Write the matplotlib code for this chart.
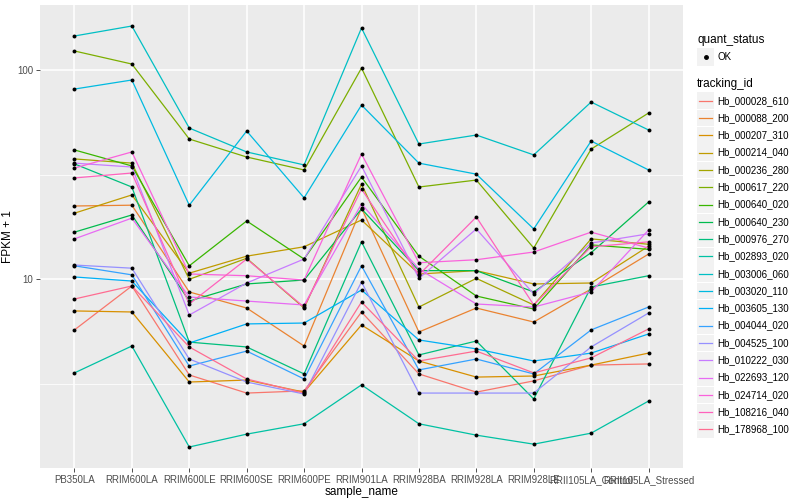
import numpy as np
import matplotlib.pyplot as plt
from matplotlib.ticker import FixedLocator, NullFormatter, FuncFormatter
from matplotlib.patches import Rectangle
from matplotlib.lines import Line2D

plt.rcParams['font.family'] = ['Liberation Sans', 'DejaVu Sans']

samples = ["PB350LA", "RRIM600LA", "RRIM600LE", "RRIM600SE", "RRIM600PE",
           "RRIM901LA", "RRIM928BA", "RRIM928LA", "RRIM928LE",
           "RRII105LA_Control", "RRII105LA_Stressed"]

tracking_ids = ["Hb_000028_610", "Hb_000088_200", "Hb_000207_310", "Hb_000214_040",
                "Hb_000236_280", "Hb_000617_220", "Hb_000640_020", "Hb_000640_230",
                "Hb_000976_270", "Hb_002893_020", "Hb_003006_060", "Hb_003020_110",
                "Hb_003605_130", "Hb_004044_020", "Hb_004525_100", "Hb_010222_030",
                "Hb_022693_120", "Hb_024714_020", "Hb_108216_040", "Hb_178968_100"]

# FPKM + 1, one list per gene, same order as samples
hb_000028_610 = [5.73, 9.29, 3.49, 2.86, 2.93, 6.98, 3.53, 2.89, 3.27, 3.89, 3.94]
hb_000088_200 = [22.4, 22.6, 8.70, 7.29, 4.80, 21.9, 5.60, 7.29, 6.25, 8.99, 13.2]
hb_000207_310 = [7.06, 6.98, 3.23, 3.30, 2.89, 6.05, 4.07, 3.41, 3.45, 3.89, 4.44]
hb_000214_040 = [20.7, 25.3, 10.7, 12.9, 14.3, 19.2, 10.6, 11.0, 9.50, 9.60, 14.4]
hb_000236_280 = [37.6, 35.9, 10.0, 12.6, 7.29, 28.5, 7.37, 10.1, 7.54, 15.6, 14.7]
hb_000617_220 = [123.3, 106.8, 46.8, 38.4, 33.3, 102.2, 27.6, 29.8, 14.1, 41.9, 62.3]
hb_000640_020 = [41.5, 34.8, 11.6, 19.0, 12.5, 30.8, 12.9, 8.32, 7.21, 14.6, 13.9]
hb_000640_230 = [16.8, 20.3, 7.87, 9.50, 9.92, 21.7, 11.0, 11.0, 8.70, 13.4, 23.4]
hb_000976_270 = [35.6, 27.6, 5.01, 4.75, 3.53, 15.1, 4.35, 5.07, 2.68, 9.19, 10.4]
hb_002893_020 = [3.57, 4.80, 1.58, 1.82, 2.04, 3.13, 2.04, 1.80, 1.63, 1.84, 2.62]
hb_003006_060 = [145.4, 162.3, 52.8, 40.6, 35.2, 158.8, 44.3, 48.9, 39.3, 70.3, 51.7]
hb_003020_110 = [81.1, 89.6, 22.6, 51.1, 24.5, 68.0, 35.9, 31.8, 17.4, 45.8, 33.3]
hb_003605_130 = [10.26, 9.81, 4.96, 6.12, 6.18, 8.89, 5.13, 4.65, 4.07, 4.44, 5.48]
hb_004044_020 = [11.6, 10.5, 3.85, 4.54, 3.34, 11.6, 3.69, 4.16, 3.53, 5.73, 7.37]
hb_004525_100 = [11.7, 11.3, 4.16, 3.23, 2.83, 9.71, 2.86, 2.86, 2.86, 4.75, 6.90]
hb_010222_030 = [35.9, 34.4, 6.75, 9.60, 12.5, 34.8, 10.1, 17.4, 8.51, 14.9, 16.5]
hb_022693_120 = [15.6, 19.6, 8.23, 7.87, 7.54, 22.9, 11.2, 7.62, 7.37, 8.70, 17.2]
hb_024714_020 = [34.0, 40.6, 10.6, 10.4, 9.92, 39.7, 12.0, 12.4, 13.5, 16.8, 14.1]
hb_108216_040 = [30.5, 32.2, 7.62, 12.5, 7.37, 27.0, 10.5, 19.85, 7.54, 14.3, 15.1]
hb_178968_100 = [8.05, 9.29, 4.75, 3.34, 2.86, 7.79, 4.07, 4.54, 3.57, 4.21, 5.79]

series = [hb_000028_610, hb_000088_200, hb_000207_310, hb_000214_040, hb_000236_280,
          hb_000617_220, hb_000640_020, hb_000640_230, hb_000976_270, hb_002893_020,
          hb_003006_060, hb_003020_110, hb_003605_130, hb_004044_020, hb_004525_100,
          hb_010222_030, hb_022693_120, hb_024714_020, hb_108216_040, hb_178968_100]

# ggplot default hue palette for 20 groups
colors = ["#F8766D", "#EA8331", "#D89000", "#C09B00", "#A3A500", "#7CAE00", "#39B600",
          "#00BB4E", "#00BF7D", "#00C1A3", "#00BFC4", "#00BAE0", "#00B0F6", "#35A2FF",
          "#9590FF", "#C77CFF", "#E76BF3", "#FA62DB", "#FF62BC", "#FF6C91"]

fig = plt.figure(figsize=(8, 5), dpi=100)
ax = fig.add_axes([40 / 800, 32 / 500, 643 / 800, 463 / 500])
ax.set_facecolor('#EBEBEB')

xpos = np.arange(len(samples))
for vals, col in zip(series, colors):
    ax.plot(xpos, vals, color=col, lw=0.9, zorder=2)
for vals in series:
    ax.scatter(xpos, vals, s=8, color='black', marker='o', zorder=3, linewidths=0)

ax.set_yscale('log')
ax.set_ylim(1.254, 204.5)
ax.set_xlim(-0.6, len(samples) - 1 + 0.6)
ax.set_xticks(xpos)
ax.set_xticklabels(samples)
ax.yaxis.set_major_locator(FixedLocator([10, 100]))
ax.yaxis.set_minor_locator(FixedLocator([10 ** 0.5, 10 ** 1.5]))
ax.yaxis.set_major_formatter(FuncFormatter(lambda v, p: '%g' % v))
ax.yaxis.set_minor_formatter(NullFormatter())

ax.grid(which='major', color='white', lw=1.1, zorder=0)
ax.grid(which='minor', axis='y', color='white', lw=0.55, zorder=0)
ax.set_axisbelow(True)
for s in ax.spines.values():
    s.set_visible(False)
ax.tick_params(which='minor', length=0)
ax.tick_params(which='major', length=3, width=0.6, color='#333333',
               labelsize=7, labelcolor='#4D4D4D', pad=2)

ax.set_xlabel('sample_name', fontsize=8.5, labelpad=1)
ax.set_ylabel('FPKM + 1', fontsize=8.5, labelpad=2)

# legends, drawn ggplot style at the right
def fx(px):
    return px / 800

def fy(py):
    return 1 - py / 500

fig.text(fx(697), fy(40), 'quant_status', fontsize=8.5, va='center')
fig.add_artist(Rectangle((fx(697), fy(65.5)), 17 / 800, 17 / 500,
                         transform=fig.transFigure, color='#F2F2F2', lw=0))
fig.add_artist(Line2D([fx(705.5)], [fy(57)], marker='o', color='black', ms=2.5,
                      transform=fig.transFigure))
fig.text(fx(717), fy(57), 'OK', fontsize=7, va='center')

fig.text(fx(697), fy(84), 'tracking_id', fontsize=8.5, va='center')
for i, (name, col) in enumerate(zip(tracking_ids, colors)):
    yc = 100.7 + 17.3 * i
    fig.add_artist(Rectangle((fx(697), fy(yc + 8.3)), 17 / 800, 16.6 / 500,
                             transform=fig.transFigure, color='#F2F2F2', lw=0))
    fig.add_artist(Line2D([fx(699), fx(712)], [fy(yc), fy(yc)], color=col, lw=0.9,
                          transform=fig.transFigure))
    fig.text(fx(717), fy(yc), name, fontsize=7, va='center')

fig.savefig('out.png', dpi=100)
